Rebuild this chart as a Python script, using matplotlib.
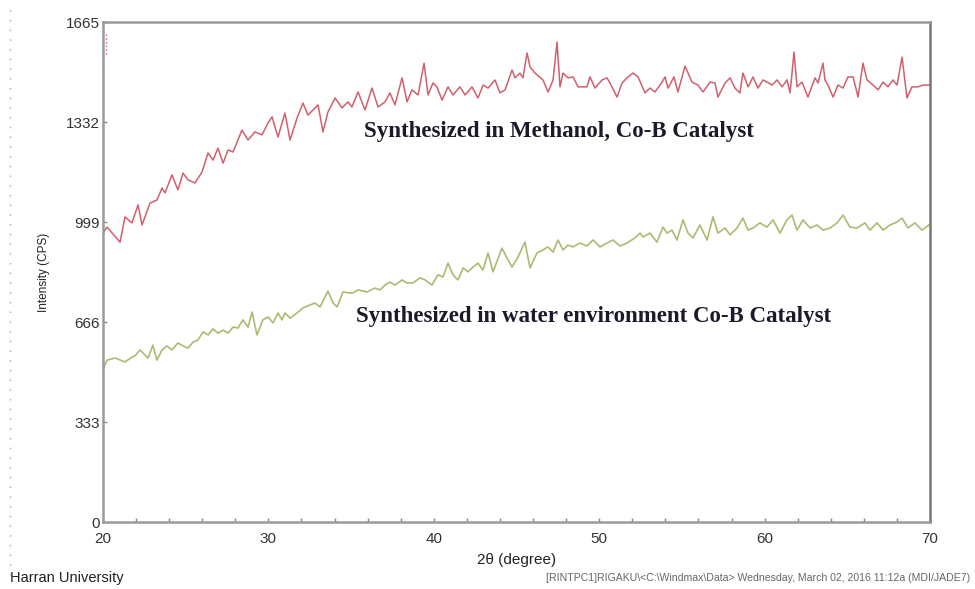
import matplotlib
matplotlib.use("Agg")
import matplotlib.pyplot as plt
from matplotlib.lines import Line2D

# ---- data (2-theta in degrees, intensity in CPS) ----
meth_x = [20.00, 20.24, 21.03, 21.33, 21.75, 22.12, 22.36, 22.84, 23.26, 23.57, 23.75, 24.17, 24.53, 24.84,
          25.14, 25.56, 25.99, 26.35, 26.65, 26.95, 27.26, 27.56, 27.86, 28.40, 28.77, 29.19, 29.61, 29.98,
          30.22, 30.58, 31.00, 31.31, 31.73, 32.09, 32.39, 33.00, 33.30, 33.60, 34.03, 34.45, 34.81, 35.05,
          35.42, 35.84, 36.26, 36.63, 37.05, 37.35, 37.65, 38.08, 38.38, 38.68, 39.05, 39.41, 39.65, 39.95,
          40.19, 40.50, 40.86, 41.16, 41.58, 41.89, 42.31, 42.67, 42.98, 43.28, 43.70, 44.00, 44.31, 44.73,
          44.91, 45.21, 45.39, 45.64, 45.82, 46.12, 46.60, 46.91, 47.21, 47.45, 47.63, 47.81, 48.11, 48.42,
          48.72, 49.26, 49.44, 49.75, 50.17, 50.47, 50.65, 51.08, 51.38, 51.68, 52.04, 52.35, 52.77, 53.07,
          53.37, 53.80, 53.98, 54.16, 54.52, 54.76, 55.19, 55.61, 55.97, 56.28, 56.70, 57.00, 57.18, 57.61,
          57.91, 58.21, 58.51, 58.69, 59.00, 59.30, 59.60, 59.90, 60.15, 60.45, 60.75, 61.05, 61.36, 61.54,
          61.78, 61.96, 62.26, 62.62, 63.05, 63.23, 63.53, 63.65, 63.83, 64.14, 64.44, 64.74, 65.04, 65.35,
          65.65, 65.95, 66.19, 66.55, 66.86, 67.16, 67.46, 67.76, 68.01, 68.31, 68.61, 68.91, 69.27, 69.58,
          70.00]
meth_y = [962, 982, 932, 1016, 996, 1056, 989, 1062, 1072, 1112, 1096, 1156, 1106, 1162,
          1139, 1129, 1166, 1229, 1205, 1245, 1195, 1239, 1232, 1305, 1272, 1299, 1289, 1329,
          1349, 1282, 1362, 1272, 1345, 1395, 1355, 1389, 1299, 1365, 1412, 1379, 1399, 1382,
          1432, 1372, 1445, 1382, 1399, 1429, 1389, 1479, 1399, 1439, 1422, 1528, 1422, 1462,
          1449, 1405, 1449, 1422, 1449, 1422, 1449, 1412, 1455, 1445, 1472, 1429, 1439, 1505,
          1479, 1495, 1479, 1562, 1515, 1495, 1472, 1432, 1472, 1598, 1449, 1495, 1479, 1482,
          1449, 1449, 1482, 1445, 1472, 1479, 1462, 1415, 1462, 1479, 1495, 1482, 1429, 1445,
          1432, 1465, 1482, 1445, 1482, 1432, 1518, 1465, 1455, 1432, 1465, 1462, 1415, 1462,
          1479, 1445, 1429, 1495, 1449, 1482, 1445, 1472, 1465, 1455, 1472, 1449, 1472, 1429,
          1565, 1449, 1465, 1415, 1479, 1462, 1528, 1472, 1455, 1415, 1455, 1445, 1482, 1482,
          1415, 1528, 1472, 1455, 1439, 1465, 1449, 1472, 1455, 1548, 1412, 1449, 1449, 1455,
          1455]

water_x = [20.00, 20.24, 20.73, 21.33, 21.75, 21.93, 22.24, 22.54, 22.72, 23.02, 23.26, 23.57, 23.87, 24.17,
           24.53, 24.96, 25.14, 25.44, 25.74, 26.05, 26.35, 26.65, 26.95, 27.26, 27.56, 27.86, 28.16, 28.46,
           28.77, 29.01, 29.31, 29.67, 29.98, 30.28, 30.58, 30.82, 31.00, 31.31, 31.73, 32.09, 32.52, 32.82,
           33.12, 33.60, 33.91, 34.15, 34.51, 34.87, 35.12, 35.42, 35.96, 36.44, 36.75, 37.05, 37.35, 37.65,
           38.08, 38.38, 38.74, 39.17, 39.47, 39.89, 40.25, 40.56, 40.86, 41.16, 41.46, 41.77, 42.07, 42.37,
           42.67, 42.97, 43.28, 43.58, 44.12, 44.43, 44.73, 45.09, 45.51, 45.82, 46.24, 46.60, 46.90, 47.21,
           47.51, 47.81, 48.11, 48.42, 48.84, 49.26, 49.63, 50.05, 50.47, 50.83, 51.26, 51.68, 52.16, 52.47,
           52.65, 53.07, 53.49, 53.86, 54.10, 54.40, 54.70, 55.07, 55.37, 55.67, 56.09, 56.52, 56.88, 57.18,
           57.61, 57.91, 58.33, 58.69, 59.00, 59.30, 59.72, 60.14, 60.51, 60.93, 61.35, 61.66, 61.96, 62.32,
           62.75, 63.17, 63.53, 63.96, 64.38, 64.74, 65.16, 65.59, 66.07, 66.37, 66.80, 67.16, 67.58, 68.01,
           68.31, 68.67, 69.09, 69.52, 70.00]
water_y = [506, 539, 546, 533, 549, 553, 573, 556, 546, 589, 539, 573, 586, 573,
           596, 583, 579, 599, 606, 633, 623, 643, 629, 639, 629, 649, 646, 673,
           649, 699, 623, 673, 683, 663, 696, 673, 696, 679, 696, 713, 723, 729,
           716, 769, 729, 716, 766, 763, 763, 773, 766, 779, 773, 789, 799, 789,
           806, 796, 796, 813, 806, 789, 823, 816, 862, 823, 806, 846, 833, 849,
           862, 839, 896, 833, 912, 879, 849, 882, 932, 846, 896, 906, 916, 899,
           939, 906, 922, 916, 929, 919, 939, 916, 929, 939, 919, 929, 946, 962,
           949, 962, 932, 982, 962, 972, 939, 1006, 962, 946, 989, 939, 1016, 962,
           979, 956, 979, 1012, 972, 979, 996, 982, 1006, 962, 1006, 1022, 972, 1006,
           979, 989, 972, 979, 996, 1022, 982, 979, 996, 972, 996, 972, 989, 999,
           1012, 979, 996, 972, 992]

y_ticks = [0, 333, 666, 999, 1332, 1665]
x_ticks = [20, 30, 40, 50, 60, 70]

label_meth = "Synthesized in Methanol, Co-B Catalyst"
label_water = "Synthesized in water environment Co-B Catalyst"

# ---- figure ----
fig = plt.figure(figsize=(9.75, 5.89), dpi=100)
ax = fig.add_axes([103/975, 1 - 522/589, (930-103)/975, (522-22)/589])

ax.plot(meth_x, meth_y, color="#d0606e", lw=1.1)
ax.plot(water_x, water_y, color="#acba72", lw=1.2)

# small red dotted marker near the top-left
ax.vlines(20.2, 1560, 1625, colors="#d2646f", linestyles=":", lw=1.0)

ax.set_xlim(20, 70)
ax.set_ylim(0, 1665)
ax.set_xticks(x_ticks)
ax.set_xticks(range(20, 71, 2), minor=True)
ax.set_yticks(y_ticks)
ax.set_xticklabels([str(v) for v in x_ticks])
ax.set_yticklabels([str(v) for v in y_ticks])
ax.tick_params(axis="both", which="both", direction="in", length=3, width=1,
               color="#888888", labelsize=11, labelcolor="#333333", pad=2)
ax.tick_params(axis="x", pad=7)
for lab in ax.get_xticklabels() + ax.get_yticklabels():
    lab.set_fontfamily("Liberation Sans")

for s in ax.spines.values():
    s.set_color("#9a9a9a")
    s.set_linewidth(1.8)
ax.spines["right"].set_color("#777777")

ax.set_ylabel("Intensity (CPS)", fontsize=8.5, family="Liberation Sans", color="#222222", labelpad=12)
ax.set_xlabel("2\u03b8 (degree)", fontsize=11, family="Liberation Sans", color="#222222", labelpad=5)

ax.text(35.8, 1300, label_meth, fontsize=16.5, fontweight="bold", family="Liberation Serif",
        color="#1a1a2a", va="center", ha="left")
ax.text(35.3, 685, label_water, fontsize=16.5, fontweight="bold", family="Liberation Serif",
        color="#1a1a2a", va="center", ha="left")

fig.text(10/975, 1 - 578/589, "Harran University", fontsize=10.5, family="Liberation Sans",
         color="#222222", va="center", ha="left")
fig.text(970/975, 1 - 578/589,
         "[RINTPC1]RIGAKU\\<C:\\Windmax\\Data> Wednesday, March 02, 2016 11:12a (MDI/JADE7)",
         fontsize=7.6, family="Liberation Sans", color="#666666", va="center", ha="right")

# dotted vertical guide at the far left
fig.add_artist(Line2D([10/975, 10/975], [1 - 575/589, 1 - 5/589], transform=fig.transFigure,
                      color="#aaaaaa", lw=1, linestyle=(0, (1, 6))))

fig.savefig("out.png", dpi=100, facecolor="white")
